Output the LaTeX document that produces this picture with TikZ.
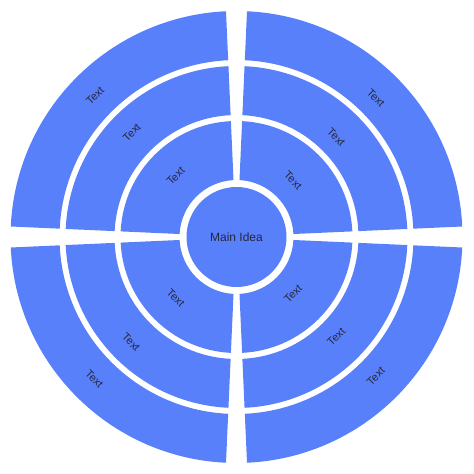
\documentclass[tikz,border=0pt]{standalone}
\usepackage{fontspec}
\setmainfont{Liberation Sans}

\definecolor{ringblue}{RGB}{88,128,250}
\definecolor{labelgrey}{RGB}{38,40,62}

\tikzset{
	sector/.style={fill=ringblue, draw=none},
	sectortext/.style={text=labelgrey, font=\fontsize{11}{13}\selectfont, inner sep=0pt},
	ideanode/.style={circle, fill=ringblue, minimum size=100pt, inner sep=0pt, text=labelgrey, font=\fontsize{12}{14}\selectfont},
}

\begin{document}
\begin{tikzpicture}[x=1pt, y=1pt]
		\useasboundingbox (0, 0) rectangle (474, 474);
		\coordinate (C) at (236.5, 237);
		% Quadrant pieces of the three rings:
		\foreach \ri/\ro in {57/116, 122/171, 177/226}{
			\foreach \a in {0, 90, 180, 270}{
				\pgfmathsetmacro{\gi}{2.55 + deg(0.45/\ri)}
				\pgfmathsetmacro{\go}{2.55 + deg(0.45/\ro)}
				\fill[sector] ([shift={(\a+\go:\ro)}]C) arc[start angle=\a+\go, end angle=\a+90-\go, radius=\ro]
					-- ([shift={(\a+90-\gi:\ri)}]C) arc[start angle=\a+90-\gi, end angle=\a+\gi, radius=\ri] -- cycle;
			}
		}
		% Labels of the pieces:
		\foreach \a/\rot/\ra/\rb/\rc in {0/-45/80/141/197, 90/45/86/148/200, 180/-45/86/149/201, 270/45/80/141/197}{
			\node[sectortext, rotate=\rot] (inner-\a) at ([shift={(\a+45:\ra)}]C) {Text};
			\node[sectortext, rotate=\rot] (middle-\a) at ([shift={(\a+45:\rb)}]C) {Text};
			\node[sectortext, rotate=\rot] (outer-\a) at ([shift={(\a+45:\rc)}]C) {Text};
		}
		% Centre:
		\node[ideanode] (main) at (C) {Main Idea};
	\end{tikzpicture}
\end{document}
